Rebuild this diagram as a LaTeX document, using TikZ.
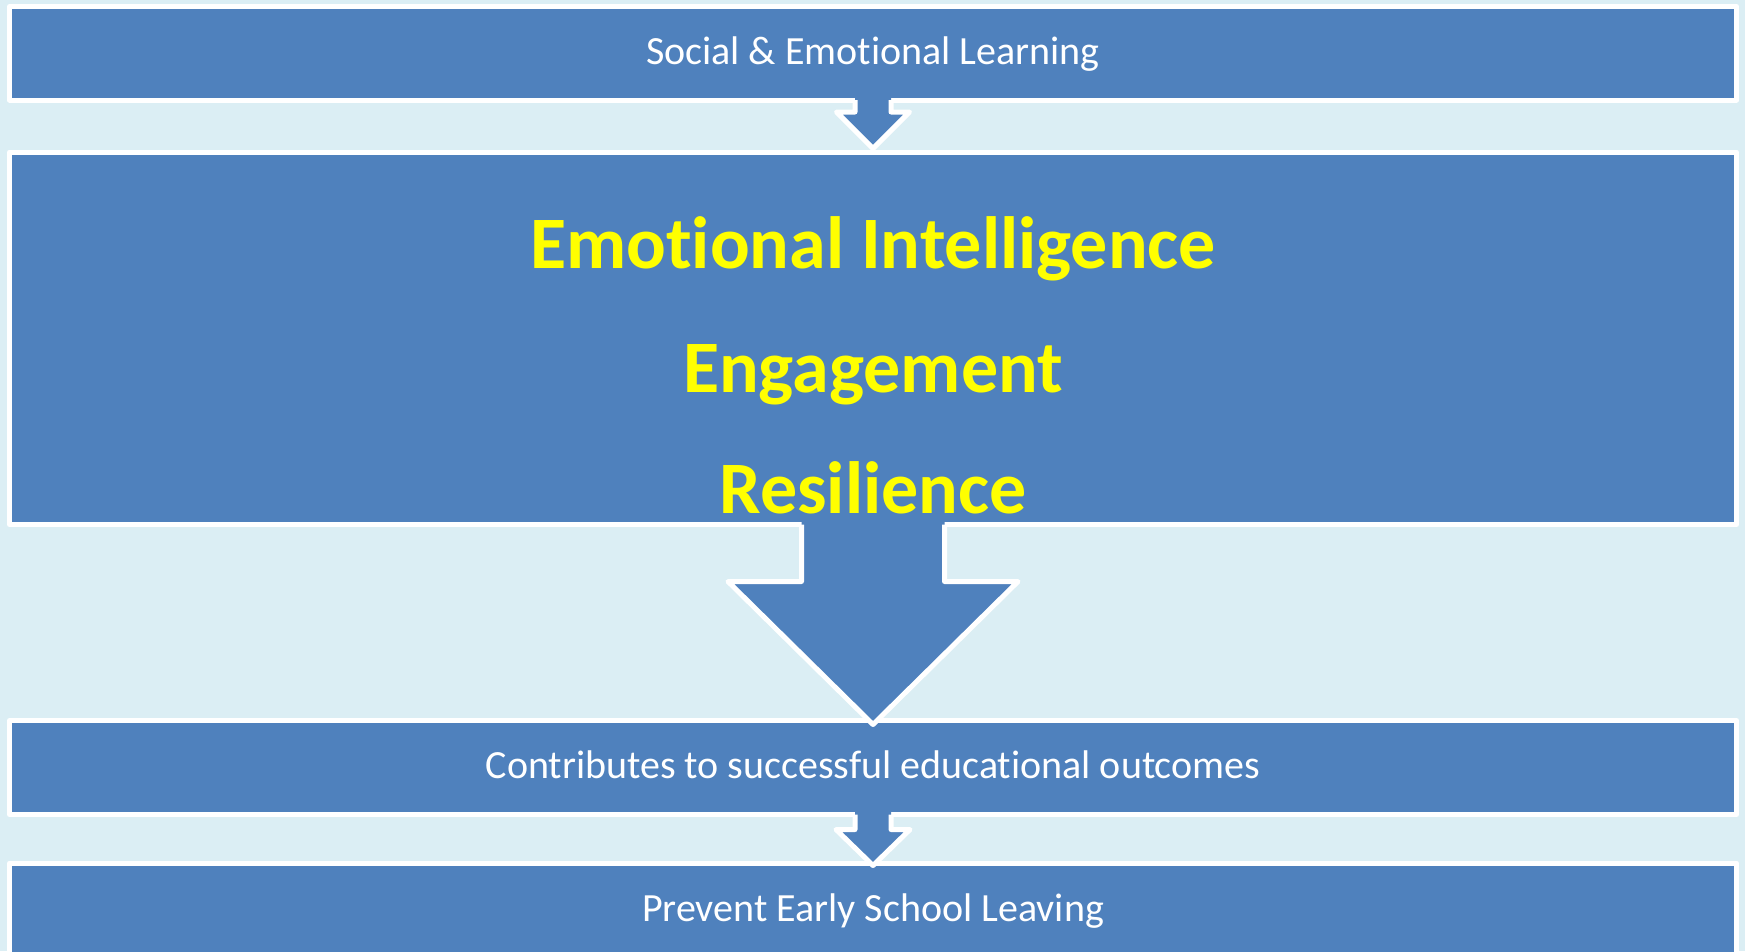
\documentclass[tikz,border=0pt]{standalone}
\usepackage{fontspec}
\setmainfont{Carlito}[Ligatures={NoCommon,NoContextual},RawFeature={-liga;-clig}]
\usetikzlibrary{calc}

\definecolor{pageblue}{HTML}{DBEEF4}
\definecolor{boxblue}{HTML}{4F81BD}
\definecolor{hiyellow}{HTML}{FFFF00}

\tikzset{
  box/.style={rectangle,draw=white,fill=boxblue,line width=5pt,line join=round,
    inner sep=0pt,outer sep=0pt,minimum width=1727pt},
  plain/.style={text=white,text height=30pt,text depth=8pt,font=\fontsize{40}{48}\selectfont},
  big/.style={anchor=base,inner sep=0pt,text=hiyellow,font=\fontsize{74}{88}\selectfont\bfseries},
  arrowfill/.style={fill=boxblue},
  arrowline/.style={draw=white,line width=5pt,line join=round},
}

\begin{document}
\begin{tikzpicture}[x=1pt,y=-1pt]

%%% Page
\fill[pageblue] (0,0) rectangle (1745,951);
\useasboundingbox (0,0) rectangle (1745,951);

%%% Boxes
\node[box,plain,minimum height=93.5pt] (sel) at (873,53.25) {Social \& Emotional Learning};
\node[box,minimum height=372.5pt] (focus) at (873,338.25) {};
\node[box,plain,minimum height=94pt] (outcome) at (873,767.5) {Contributes to successful educational outcomes};
\node[box,plain,minimum height=94pt] (prevent) at (873,910) {Prevent Early School Leaving};

%%% Big words
\node[big] (ei) at (873,268) {Emotional Intelligence};
\node[big] (eng) at (873,392) {Engagement};
\node[big] (res) at (873,513) {Resilience};

%%% Arrow sel -> focus
\fill[arrowfill] ($(sel.south)+(-18,-3)$) -- ($(sel.south)+(-18,12)$) -- ($(sel.south)+(-36.5,12)$)
  -- ($(focus.north)+(0,-3.5)$) -- ($(sel.south)+(36.5,12)$) -- ($(sel.south)+(18,12)$)
  -- ($(sel.south)+(18,-3)$) -- cycle;
\draw[arrowline] ($(sel.south)+(-18,0)$) -- ($(sel.south)+(-18,12)$) -- ($(sel.south)+(-36.5,12)$)
  -- ($(focus.north)+(0,-3.5)$) -- ($(sel.south)+(36.5,12)$) -- ($(sel.south)+(18,12)$)
  -- ($(sel.south)+(18,0)$);

%%% Arrow focus -> outcome
\fill[arrowfill] ($(focus.south)+(-71.5,-3)$) -- ($(focus.south)+(-71.5,57)$) -- ($(focus.south)+(-145,57)$)
  -- ($(outcome.north)+(0,4)$) -- ($(focus.south)+(145,57)$) -- ($(focus.south)+(71.5,57)$)
  -- ($(focus.south)+(71.5,-3)$) -- cycle;
\draw[arrowline] ($(focus.south)+(-71.5,0)$) -- ($(focus.south)+(-71.5,57)$) -- ($(focus.south)+(-145,57)$)
  -- ($(outcome.north)+(0,4)$) -- ($(focus.south)+(145,57)$) -- ($(focus.south)+(71.5,57)$)
  -- ($(focus.south)+(71.5,0)$);

%%% Arrow outcome -> prevent
\fill[arrowfill] ($(outcome.south)+(-18,-3)$) -- ($(outcome.south)+(-18,15)$) -- ($(outcome.south)+(-37,15)$)
  -- ($(prevent.north)+(0,2.5)$) -- ($(outcome.south)+(37,15)$) -- ($(outcome.south)+(18,15)$)
  -- ($(outcome.south)+(18,-3)$) -- cycle;
\draw[arrowline] ($(outcome.south)+(-18,0)$) -- ($(outcome.south)+(-18,15)$) -- ($(outcome.south)+(-37,15)$)
  -- ($(prevent.north)+(0,2.5)$) -- ($(outcome.south)+(37,15)$) -- ($(outcome.south)+(18,15)$)
  -- ($(outcome.south)+(18,0)$);

\end{tikzpicture}
\end{document}
